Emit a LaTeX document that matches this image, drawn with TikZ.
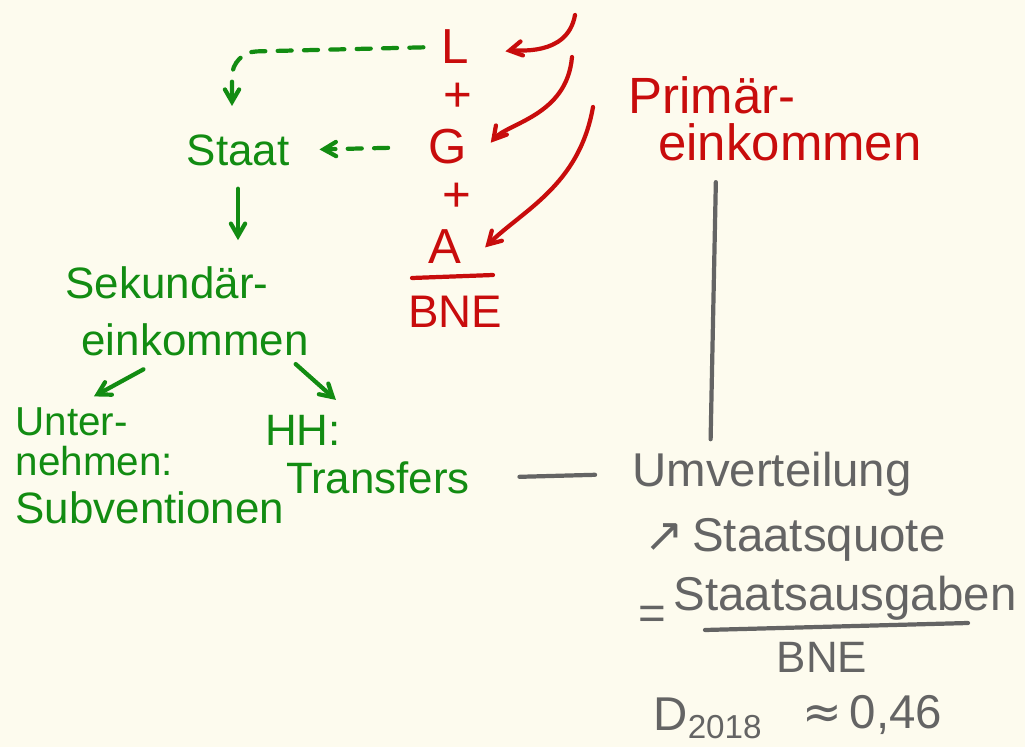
\documentclass[tikz,border=0pt]{standalone}
\usepackage{fontspec}
\setmainfont{Liberation Sans}
\newfontfamily\symbolfont{DejaVu Sans}
\usetikzlibrary{arrows}
\definecolor{paper}{RGB}{253,251,238}
\definecolor{penred}{RGB}{200,12,12}
\definecolor{pengreen}{RGB}{18,140,18}
\definecolor{pengray}{RGB}{100,100,100}

\begin{document}
\begin{tikzpicture}[x=0.02cm,y=0.02cm,>=angle 60,line width=2.4pt,line cap=round,
  red node/.style={text=penred,inner sep=1pt,font=\fontsize{28}{32}\selectfont},
  green node/.style={text=pengreen,inner sep=2pt,font=\fontsize{25}{29}\selectfont},
  gray node/.style={text=pengray,inner sep=3pt,font=\fontsize{27}{31}\selectfont},
  dash line/.style={dash pattern=on 8pt off 7pt}]

  \useasboundingbox[fill=paper] (0,0) rectangle (1025,-747);

  % primary income
  \node[red node] (L) at (455,-47) {L};
  \node[red node] (plus1) at (458,-97) {+};
  \node[red node] (G) at (448,-147) {G};
  \node[red node] (plus2) at (457,-197) {+};
  \node[red node] (A) at (445,-247) {A};
  \node[red node,font=\fontsize{26}{30}\selectfont] (bne) at (455,-312) {BNE};
  \node[red node,font=\fontsize{29}{33}\selectfont] (prim1) at (712,-95) {Primär-};
  \node[red node,font=\fontsize{29}{33}\selectfont] (prim2) at (790,-142) {einkommen};
  \coordinate (r1) at (575,-15);
  \coordinate (r2) at (572,-57);
  \coordinate (r3) at (593,-107);
  \draw[penred] (412,-278) -- (493,-275);

  % state and secondary income
  \node[green node] (staat) at (238,-150) {Staat};
  \node[green node] (sek1) at (167,-283) {Sekundär-};
  \node[green node] (sek2) at (195,-340) {einkommen};
  \node[green node,anchor=west,font=\fontsize{23}{27}\selectfont] (unt1) at (10,-422) {Unter-};
  \node[green node,anchor=west,font=\fontsize{23}{27}\selectfont] (unt2) at (10,-461) {nehmen:};
  \node[green node,anchor=west] (subv) at (10,-508) {Subventionen};
  \node[green node] (hh) at (303,-430) {HH:};
  \node[green node] (trans) at (378,-478) {Transfers};
  \coordinate (corner) at (232,-52);

  % redistribution
  \node[gray node] (umv) at (772,-474) {Umverteilung};
  \node[gray node] (quote) at (795,-540) {{\symbolfont ↗}\,Staatsquote};
  \node[gray node] (eq) at (652,-618) {=};
  \node[gray node] (ausg) at (845,-598) {Staatsausgaben};
  \node[gray node,font=\fontsize{25}{29}\selectfont] (bne2) at (822,-657) {BNE};
  \node[gray node] (year) at (708,-718) {D\textsubscript{2018}};
  \node[gray node] (val) at (872,-715) {{\symbolfont ≈}\,0,46};
  \draw[pengray] (705,-630) -- (968,-623);

  \path[every edge/.style={draw=penred,->}]
    (r1) edge[out=-100,in=10,shorten >=19pt] (L.-30)
    (r2) edge[out=-95,in=50,shorten >=19pt] (G.-45)
    (r3) edge[out=-100,in=45,shorten >=16pt] (A.-45);

  \path[every edge/.style={draw=pengreen,->}]
    (L.west) edge[dash line,rounded corners=14pt,shorten <=8pt,shorten >=13pt,to path={-- (corner) -- (corner |- staat.north) \tikztonodes}] (staat)
    (G.west) edge[dash line,shorten <=21pt,shorten >=14pt] (staat.east)
    (staat.south) edge[shorten <=10pt,shorten >=12pt] (staat.south |- sek1.north)
    (sek2.-150) edge[shorten <=9pt,shorten >=7pt] (unt1.60)
    ([xshift=-12pt]sek2.south east) edge[shorten <=2pt,shorten >=8pt] (hh.north east);

  \path[every edge/.style={draw=pengray}]
    ([xshift=-42pt]prim2.south) edge[shorten <=10pt,shorten >=3pt] ([xshift=-35pt]umv.north)
    (trans.east) edge[shorten <=25pt,shorten >=17pt] (umv.west);
\end{tikzpicture}
\end{document}
